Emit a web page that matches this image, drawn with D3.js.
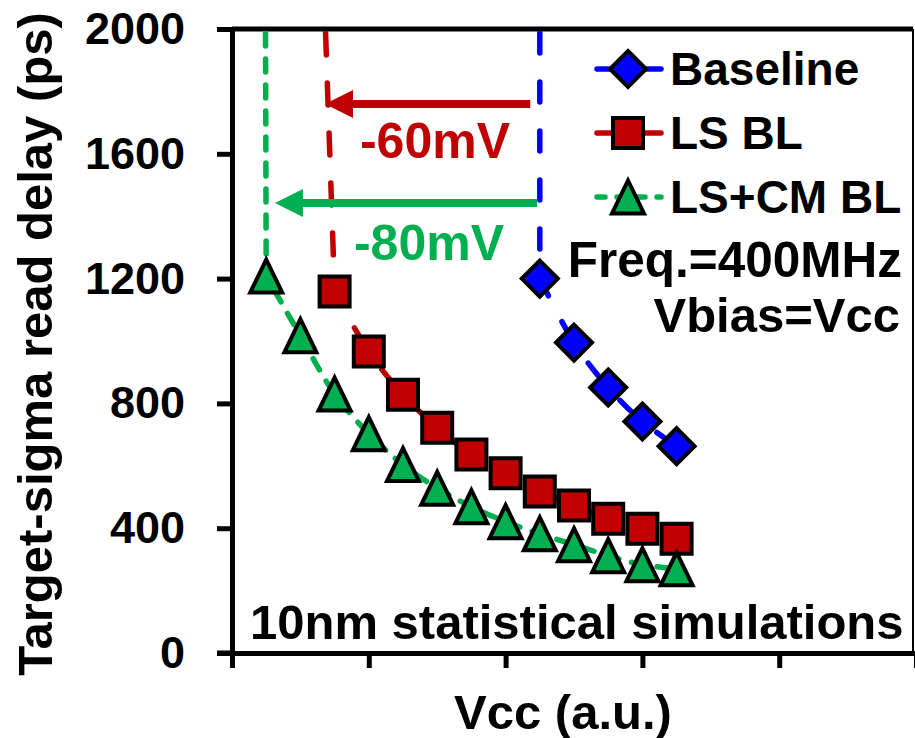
<!DOCTYPE html>
<html><head><meta charset="utf-8">
<script src="https://cdn.jsdelivr.net/npm/d3@7"></script>
<style>
body{margin:0;background:#fff}
svg{display:block}
text{font-family:"Liberation Sans",Arial,sans-serif;font-weight:bold}
</style>
</head><body>
<svg id="chart" width="915" height="738"></svg>
<script>
// ---------- data ----------
const seriesNames = ["Baseline", "LS BL", "LS+CM BL"];
const seriesColors = ["#0000FF", "#C00000", "#00B050"];
const baselineX = [2.25, 2.5, 2.75, 3.0, 3.25];
const baselineY = [1200, 995, 851, 742, 663];
const lsblX = [0.75, 1.0, 1.25, 1.5, 1.75, 2.0, 2.25, 2.5, 2.75, 3.0, 3.25];
const lsblY = [1159, 966, 828, 722, 636, 576, 518, 473, 430, 398, 366];
const lscmX = [0.25, 0.5, 0.75, 1.0, 1.25, 1.5, 1.75, 2.0, 2.25, 2.5, 2.75, 3.0, 3.25];
const lscmY = [1208, 1017, 830, 703, 604, 528, 469, 421, 382, 347, 312, 283, 270];
// Vcc at which each curve leaves the top of the axis (2000 ps)
const topCrossX = [2.25, 0.684, 0.245];
const yTicks = [0, 400, 800, 1200, 1600, 2000];
const xTicks = [0, 1, 2, 3, 4, 5];
// shift annotations
const shiftLabels = ["-60mV", "-80mV"];
const shiftFromX = [2.18, 2.23];
const shiftToX = [0.68, 0.314];
const shiftLevel = [1760, 1442];
const shiftColors = ["#C00000", "#00B050"];
const noteLines = ["Freq.=400MHz", "Vbias=Vcc"];
const footNote = "10nm statistical simulations";
const xTitle = "Vcc (a.u.)";
const yTitle = "Target-sigma read delay (ps)";

// ---------- layout ----------
const svg = d3.select("#chart");
const x = d3.scaleLinear().domain([0, 5]).range([232, 916]);
const y = d3.scaleLinear().domain([0, 2000]).range([653, 29]);

// frame (top + right)
svg.append("line").attr("x1", x(0)).attr("x2", 913).attr("y1", y(2000)).attr("y2", y(2000))
  .attr("stroke", "#000").attr("stroke-width", 5);
svg.append("line").attr("x1", 913).attr("x2", 913).attr("y1", y(2000)).attr("y2", y(0))
  .attr("stroke", "#000").attr("stroke-width", 2);

// y axis
const yAxis = svg.append("g").attr("transform", `translate(${x(0)},0)`)
  .call(d3.axisLeft(y).tickValues(yTicks).tickSize(15).tickSizeOuter(0).tickPadding(32).tickFormat(d3.format("d")));
yAxis.select(".domain").attr("stroke-width", 5);
yAxis.selectAll(".tick line").attr("stroke-width", 5);
yAxis.selectAll(".tick text").attr("font-size", 45).attr("fill", "#000")
  .style("font-family", '"Liberation Sans",Arial,sans-serif').style("font-weight", "bold");

// x axis
const xAxis = svg.append("g").attr("transform", `translate(0,${y(0)})`)
  .call(d3.axisBottom(x).tickValues(xTicks).tickSize(15).tickSizeOuter(0).tickFormat(""));
xAxis.select(".domain").attr("stroke-width", 5);
xAxis.selectAll(".tick line").attr("stroke-width", 5);
svg.append("line").attr("x1", 217).attr("x2", x(0)).attr("y1", y(0)).attr("y2", y(0))
  .attr("stroke", "#000").attr("stroke-width", 5);

// clip to plot
svg.append("clipPath").attr("id", "plot").append("rect")
  .attr("x", x(0)).attr("y", y(2000) + 2).attr("width", 913 - x(0)).attr("height", y(0) - y(2000) - 2);

const xsAll = [baselineX, lsblX, lscmX];
const ysAll = [baselineY, lsblY, lscmY];
const dashes = ["20,29", "22,28", "13,13"];
const smooth = d3.line().x(d => x(d[0])).y(d => y(d[1])).curve(d3.curveCatmullRom.alpha(0.5));

const lineG = svg.append("g").attr("clip-path", "url(#plot)");
for (let s = 0; s < 3; s++) {
  const pts = xsAll[s].map((v, i) => [v, ysAll[s][i]]);
  // straight drop from the top of the axis to the first point, then smoothed through the points
  const d = `M${x(topCrossX[s])},${y(2000) + 4}L` + smooth(pts).slice(1);
  lineG.append("path").attr("d", d).attr("fill", "none")
    .attr("stroke", seriesColors[s]).attr("stroke-width", 5.5).attr("stroke-linecap", "round")
    .attr("stroke-dasharray", dashes[s]);
}

// arrows
for (let a = 0; a < shiftLabels.length; a++) {
  const yy = y(shiftLevel[a]);
  const x0 = x(shiftFromX[a]), x1 = x(shiftToX[a]);
  svg.append("line").attr("x1", x0).attr("x2", x1 + 20).attr("y1", yy).attr("y2", yy)
    .attr("stroke", shiftColors[a]).attr("stroke-width", 8);
  svg.append("path").attr("d", `M${x1},${yy} L${x1 + 28},${yy - 14} L${x1 + 28},${yy + 14} Z`)
    .attr("fill", shiftColors[a]);
}
svg.append("text").attr("x", 435).attr("y", 158).attr("text-anchor", "middle")
  .attr("font-size", 50).attr("fill", shiftColors[0]).text(shiftLabels[0]);
svg.append("text").attr("x", 429).attr("y", 260).attr("text-anchor", "middle")
  .attr("font-size", 50).attr("fill", shiftColors[1]).text(shiftLabels[1]);

// markers
function markerPath(s, cx, cy) {
  if (s === 0) { const r = 18; return `M${cx},${cy - r}L${cx + r},${cy}L${cx},${cy + r}L${cx - r},${cy}Z`; }
  if (s === 1) { const h = 15; return `M${cx - h},${cy - h}H${cx + h}V${cy + h}H${cx - h}Z`; }
  const w = 16, hh = 16.5; return `M${cx},${cy - hh}L${cx + w},${cy + hh}L${cx - w},${cy + hh}Z`;
}
for (let s = 0; s < 3; s++) {
  svg.append("g").selectAll("path").data(xsAll[s].map((v, i) => [v, ysAll[s][i]])).join("path")
    .attr("d", d => markerPath(s, x(d[0]), y(d[1])))
    .attr("fill", seriesColors[s]).attr("stroke", "#000").attr("stroke-width", 4)
    .attr("stroke-linejoin", "miter");
}

// legend
const legY = [69, 133, 197];
const legDash = [null, null, "8,12"];
for (let s = 0; s < 3; s++) {
  const g = svg.append("g");
  g.append("line").attr("x1", 597).attr("x2", 661).attr("y1", legY[s]).attr("y2", legY[s])
    .attr("stroke", seriesColors[s]).attr("stroke-width", 5.5).attr("stroke-linecap", "round")
    .attr("stroke-dasharray", legDash[s]);
  g.append("path").attr("d", markerPath(s, 628, legY[s]))
    .attr("fill", seriesColors[s]).attr("stroke", "#000").attr("stroke-width", 4);
  g.append("text").attr("x", 670).attr("y", legY[s] + 16).attr("font-size", 46).attr("fill", "#000")
    .text(seriesNames[s]);
}

// notes
svg.append("text").attr("x", 902).attr("y", 277).attr("text-anchor", "end").attr("font-size", 49.5).text(noteLines[0]);
svg.append("text").attr("x", 900).attr("y", 332).attr("text-anchor", "end").attr("font-size", 49).text(noteLines[1]);
svg.append("text").attr("x", 250).attr("y", 639).attr("font-size", 49).text(footNote);

// axis titles
svg.append("text").attr("x", 563).attr("y", 729).attr("text-anchor", "middle").attr("font-size", 49).text(xTitle);
svg.append("text").attr("transform", "translate(52,344) rotate(-90)").attr("text-anchor", "middle")
  .attr("font-size", 49).text(yTitle);
</script>
</body></html>
